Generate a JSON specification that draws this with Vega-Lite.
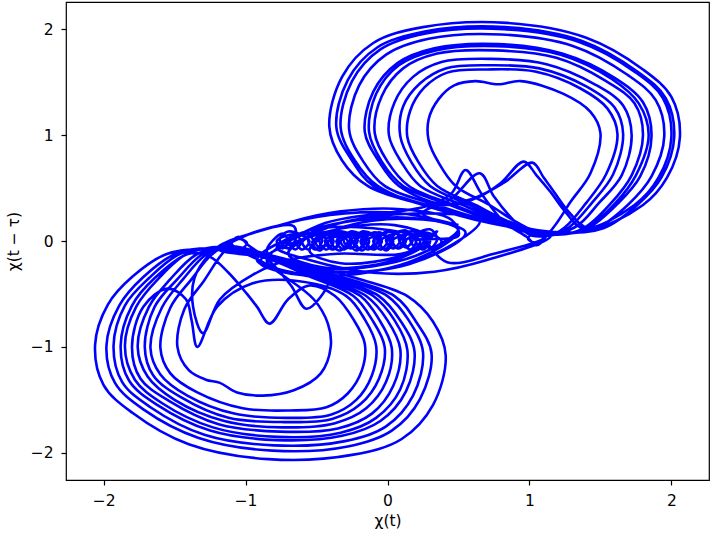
{
"$schema":"https://vega.github.io/schema/vega-lite/v6.json",
"width":643,"height":478,
"autosize":{"type":"none"},
"padding":{"left":66,"top":2,"right":1,"bottom":55},
"background":"white",
"config":{"view":{"stroke":"black","strokeWidth":1.2},
"axis":{"domain":false,"grid":false,"tickColor":"black","tickSize":5,"tickWidth":1.2,"labelFont":"DejaVu Sans","labelFontSize":15.5,"labelColor":"black","labelPadding":8,"titleFont":"DejaVu Sans","titleFontSize":15.5,"titleFontWeight":"normal","titleColor":"black"}},
"data":{"values":[
{"x":-1.20,"y":-0.08},{"x":-0.90,"y":0.10},{"x":-0.66,"y":0.14},
{"x":-0.65,"y":0.01},{"x":-0.70,"y":-0.07},{"x":-0.76,"y":0.01},{"x":-0.70,"y":0.09},
{"x":-0.55,"y":0.0},{"x":-0.60,"y":-0.08},{"x":-0.65,"y":0.0},{"x":-0.60,"y":0.08},
{"x":-0.46,"y":0.01},{"x":-0.51,"y":-0.08},{"x":-0.56,"y":0.01},{"x":-0.51,"y":0.10},
{"x":-0.38,"y":0.0},{"x":-0.43,"y":-0.08},{"x":-0.48,"y":0.0},{"x":-0.43,"y":0.08},
{"x":-0.28,"y":0.0},{"x":-0.34,"y":-0.09},{"x":-0.40,"y":0.0},{"x":-0.34,"y":0.09},
{"x":-0.21,"y":0.01},{"x":-0.26,"y":-0.07},{"x":-0.31,"y":0.01},{"x":-0.26,"y":0.09},
{"x":-0.13,"y":0.0},{"x":-0.18,"y":-0.09},{"x":-0.23,"y":0.0},{"x":-0.18,"y":0.09},
{"x":-0.04,"y":0.0},{"x":-0.10,"y":-0.08},{"x":-0.16,"y":0.0},{"x":-0.10,"y":0.08},
{"x":0.04,"y":0.0},{"x":-0.01,"y":-0.09},{"x":-0.06,"y":0.0},{"x":-0.01,"y":0.09},
{"x":0.13,"y":0.01},{"x":0.08,"y":-0.07},{"x":0.03,"y":0.01},{"x":0.08,"y":0.09},
{"x":0.23,"y":0.0},{"x":0.17,"y":-0.09},{"x":0.11,"y":0.0},{"x":0.17,"y":0.09},
{"x":0.30,"y":0.0},{"x":0.25,"y":-0.08},{"x":0.20,"y":0.0},{"x":0.25,"y":0.08},
{"x":0.38,"y":0.0},{"x":0.33,"y":-0.08},{"x":0.28,"y":0.0},{"x":0.33,"y":0.08},
{"x":0.35,"y":0.09},{"x":0.13,"y":-0.12},{"x":-0.33,"y":-0.21},{"x":-0.55,"y":-0.09},{"x":-0.33,"y":0.12},{"x":0.13,"y":0.21},
{"x":0.50,"y":0.12},{"x":0.20,"y":-0.14},{"x":-0.40,"y":-0.26},{"x":-0.70,"y":-0.12},{"x":-0.40,"y":0.14},{"x":0.20,"y":0.26},
{"x":0.65,"y":0.19},{"x":0.28,"y":-0.15},{"x":-0.48,"y":-0.33},{"x":-0.85,"y":-0.19},{"x":-0.48,"y":0.15},{"x":0.28,"y":0.33},
{"x":0.45,"y":0.45},{"x":0.55,"y":0.67},{"x":0.66,"y":0.45},{"x":0.82,"y":0.18},{"x":0.98,"y":0.04},{"x":1.05,"y":-0.04},{"x":1.10,"y":0.02},{"x":1.04,"y":0.08},{"x":0.99,"y":0.02},{"x":1.06,"y":-0.02},
{"x":1.17,"y":0.13},{"x":1.29,"y":0.37},{"x":1.43,"y":0.64},{"x":1.50,"y":1.02},{"x":1.43,"y":1.22},{"x":1.24,"y":1.39},{"x":0.94,"y":1.51},{"x":0.78,"y":1.48},{"x":0.62,"y":1.51},{"x":0.47,"y":1.47},{"x":0.36,"y":1.34},{"x":0.29,"y":1.15},{"x":0.29,"y":0.95},{"x":0.36,"y":0.74},{"x":0.48,"y":0.52},{"x":0.72,"y":0.34},{"x":0.92,"y":0.17},
{"x":1.13,"y":0.05},{"x":1.25,"y":0.13},{"x":1.40,"y":0.36},{"x":1.54,"y":0.63},{"x":1.62,"y":1.01},{"x":1.55,"y":1.25},{"x":1.36,"y":1.44},{"x":1.04,"y":1.60},{"x":0.70,"y":1.62},{"x":0.42,"y":1.59},{"x":0.26,"y":1.45},{"x":0.16,"y":1.23},{"x":0.14,"y":0.98},{"x":0.22,"y":0.74},{"x":0.35,"y":0.52},{"x":0.62,"y":0.34},{"x":0.88,"y":0.17},
{"x":1.18,"y":0.06},{"x":1.38,"y":0.12},{"x":1.57,"y":0.35},{"x":1.72,"y":0.62},{"x":1.80,"y":1.00},{"x":1.74,"y":1.30},{"x":1.54,"y":1.51},{"x":1.19,"y":1.73},{"x":0.76,"y":1.80},{"x":0.35,"y":1.77},{"x":0.11,"y":1.63},{"x":-0.04,"y":1.37},{"x":-0.09,"y":1.02},{"x":0.00,"y":0.75},{"x":0.15,"y":0.52},{"x":0.47,"y":0.34},{"x":0.81,"y":0.17},
{"x":1.19,"y":0.06},{"x":1.41,"y":0.12},{"x":1.62,"y":0.35},{"x":1.78,"y":0.61},{"x":1.86,"y":0.99},{"x":1.80,"y":1.31},{"x":1.60,"y":1.54},{"x":1.23,"y":1.77},{"x":0.78,"y":1.86},{"x":0.33,"y":1.82},{"x":0.07,"y":1.68},{"x":-0.10,"y":1.41},{"x":-0.16,"y":1.03},{"x":-0.06,"y":0.75},{"x":0.08,"y":0.52},{"x":0.42,"y":0.34},
{"x":0.65,"y":0.42},{"x":0.80,"y":0.55},{"x":0.96,"y":0.75},{"x":1.05,"y":0.62},{"x":1.15,"y":0.46},{"x":1.25,"y":0.28},{"x":1.38,"y":0.12},
{"x":1.74,"y":0.34},{"x":1.91,"y":0.60},{"x":2.00,"y":0.98},{"x":1.94,"y":1.35},{"x":1.74,"y":1.60},{"x":1.35,"y":1.88},{"x":0.82,"y":2.00},{"x":0.27,"y":1.96},{"x":-0.05,"y":1.81},{"x":-0.25,"y":1.51},{"x":-0.33,"y":1.07},{"x":-0.23,"y":0.76},{"x":-0.07,"y":0.52},{"x":0.30,"y":0.34},
{"x":0.60,"y":0.40},{"x":0.82,"y":0.55},{"x":1.02,"y":0.74},{"x":1.10,"y":0.60},{"x":1.18,"y":0.45},{"x":1.28,"y":0.27},{"x":1.42,"y":0.12},
{"x":1.80,"y":0.34},{"x":1.97,"y":0.60},{"x":2.06,"y":0.98},{"x":2.00,"y":1.36},{"x":1.80,"y":1.62},{"x":1.40,"y":1.92},{"x":0.84,"y":2.06},{"x":0.25,"y":2.02},{"x":-0.10,"y":1.87},{"x":-0.32,"y":1.55},{"x":-0.41,"y":1.08},{"x":-0.32,"y":0.76},{"x":-0.14,"y":0.52},{"x":0.25,"y":0.34},{"x":0.72,"y":0.17},
{"x":1.22,"y":0.07},{"x":1.47,"y":0.12},{"x":1.70,"y":0.35},{"x":1.86,"y":0.61},{"x":1.95,"y":0.99},{"x":1.89,"y":1.33},{"x":1.69,"y":1.57},{"x":1.31,"y":1.84},{"x":0.80,"y":1.95},{"x":0.29,"y":1.91},{"x":-0.01,"y":1.76},{"x":-0.20,"y":1.47},{"x":-0.27,"y":1.05},{"x":-0.17,"y":0.75},{"x":-0.02,"y":0.52},{"x":0.34,"y":0.34},{"x":0.76,"y":0.17},
{"x":1.14,"y":0.05},{"x":1.28,"y":0.13},{"x":1.44,"y":0.36},{"x":1.59,"y":0.63},{"x":1.66,"y":1.01},{"x":1.60,"y":1.26},{"x":1.40,"y":1.46},{"x":1.07,"y":1.63},{"x":0.71,"y":1.66},{"x":0.41,"y":1.63},{"x":0.23,"y":1.49},{"x":0.11,"y":1.27},{"x":0.09,"y":0.99},{"x":0.17,"y":0.74},{"x":0.30,"y":0.52},{"x":0.58,"y":0.34},{"x":0.86,"y":0.17},
{"x":1.12,"y":0.05},{"x":0.75,"y":-0.12},{"x":0.42,"y":-0.20},
{"x":0.25,"y":0.02},{"x":0.30,"y":-0.07},{"x":0.35,"y":0.02},{"x":0.30,"y":0.11},
{"x":0.16,"y":0.02},{"x":0.21,"y":-0.07},{"x":0.26,"y":0.02},{"x":0.21,"y":0.10},
{"x":0.08,"y":0.02},{"x":0.13,"y":-0.06},{"x":0.18,"y":0.02},{"x":0.13,"y":0.10},
{"x":-0.01,"y":0.01},{"x":0.04,"y":-0.07},{"x":0.09,"y":0.01},{"x":0.04,"y":0.09},
{"x":-0.10,"y":0.0},{"x":-0.05,"y":-0.08},{"x":0.00,"y":0.0},{"x":-0.05,"y":0.08},
{"x":-0.19,"y":0.0},{"x":-0.14,"y":-0.08},{"x":-0.09,"y":0.0},{"x":-0.14,"y":0.08},
{"x":-0.27,"y":-0.01},{"x":-0.22,"y":-0.09},{"x":-0.17,"y":-0.01},{"x":-0.22,"y":0.07},
{"x":-0.36,"y":0.0},{"x":-0.31,"y":-0.08},{"x":-0.26,"y":0.0},{"x":-0.31,"y":0.08},
{"x":-0.44,"y":0.0},{"x":-0.39,"y":-0.08},{"x":-0.34,"y":0.0},{"x":-0.39,"y":0.08},
{"x":-0.53,"y":-0.01},{"x":-0.48,"y":-0.09},{"x":-0.43,"y":-0.01},{"x":-0.48,"y":0.07},
{"x":-0.70,"y":-0.12},{"x":-0.45,"y":-0.25},{"x":0.05,"y":-0.18},{"x":0.30,"y":0.02},{"x":0.05,"y":0.15},{"x":-0.45,"y":0.08},
{"x":-0.90,"y":-0.20},{"x":-0.55,"y":-0.33},{"x":0.15,"y":-0.20},{"x":0.50,"y":0.10},{"x":0.15,"y":0.22},{"x":-0.55,"y":0.10},
{"x":-0.92,"y":-0.18},{"x":-0.60,"y":-0.32},{"x":-0.42,"y":-0.38},{"x":-0.57,"y":-0.64},{"x":-0.68,"y":-0.42},{"x":-0.84,"y":-0.18},{"x":-0.98,"y":-0.04},{"x":-1.05,"y":0.04},{"x":-1.10,"y":-0.02},{"x":-1.04,"y":-0.08},{"x":-0.99,"y":-0.02},{"x":-1.06,"y":0.02},
{"x":-1.17,"y":-0.13},{"x":-1.29,"y":-0.37},{"x":-1.43,"y":-0.64},{"x":-1.48,"y":-1.0},{"x":-1.40,"y":-1.22},{"x":-1.28,"y":-1.31},{"x":-1.18,"y":-1.34},{"x":-1.06,"y":-1.43},{"x":-0.88,"y":-1.46},{"x":-0.66,"y":-1.41},{"x":-0.47,"y":-1.25},{"x":-0.40,"y":-1.0},{"x":-0.42,"y":-0.78},{"x":-0.52,"y":-0.55},{"x":-0.72,"y":-0.34},{"x":-0.92,"y":-0.17},
{"x":-1.17,"y":-0.06},{"x":-1.35,"y":-0.13},{"x":-1.53,"y":-0.36},{"x":-1.68,"y":-0.62},{"x":-1.76,"y":-1.00},{"x":-1.69,"y":-1.28},{"x":-1.50,"y":-1.50},{"x":-1.15,"y":-1.70},{"x":-0.74,"y":-1.76},{"x":-0.37,"y":-1.72},{"x":-0.15,"y":-1.58},{"x":-0.01,"y":-1.33},{"x":0.03,"y":-1.01},{"x":-0.06,"y":-0.74},{"x":-0.19,"y":-0.52},{"x":-0.50,"y":-0.34},{"x":-0.83,"y":-0.17},
{"x":-1.13,"y":-0.05},{"x":-1.24,"y":-0.13},{"x":-1.38,"y":-0.36},{"x":-1.53,"y":-0.63},{"x":-1.60,"y":-1.01},{"x":-1.53,"y":-1.25},{"x":-1.34,"y":-1.43},{"x":-1.02,"y":-1.58},{"x":-0.69,"y":-1.60},{"x":-0.43,"y":-1.57},{"x":-0.28,"y":-1.44},{"x":-0.18,"y":-1.22},{"x":-0.16,"y":-0.97},{"x":-0.24,"y":-0.74},{"x":-0.37,"y":-0.52},
{"x":-0.55,"y":-0.42},{"x":-0.70,"y":-0.55},{"x":-0.83,"y":-0.78},{"x":-0.92,"y":-0.62},{"x":-0.99,"y":-0.50},{"x":-1.12,"y":-0.30},{"x":-1.25,"y":-0.15},{"x":-1.40,"y":-0.12},
{"x":-1.64,"y":-0.35},{"x":-1.80,"y":-0.61},{"x":-1.88,"y":-0.99},{"x":-1.82,"y":-1.32},{"x":-1.62,"y":-1.55},{"x":-1.25,"y":-1.79},{"x":-0.78,"y":-1.88},{"x":-0.32,"y":-1.84},{"x":-0.05,"y":-1.70},{"x":0.13,"y":-1.42},{"x":0.19,"y":-1.04},{"x":0.09,"y":-0.75},{"x":-0.06,"y":-0.52},{"x":-0.40,"y":-0.34},{"x":-0.78,"y":-0.17},
{"x":-1.25,"y":-0.08},{"x":-1.55,"y":-0.12},{"x":-1.80,"y":-0.34},{"x":-1.97,"y":-0.60},{"x":-2.06,"y":-0.98},{"x":-2.00,"y":-1.36},{"x":-1.80,"y":-1.62},{"x":-1.40,"y":-1.92},{"x":-0.84,"y":-2.06},{"x":-0.25,"y":-2.02},{"x":0.10,"y":-1.87},{"x":0.32,"y":-1.55},{"x":0.41,"y":-1.08},{"x":0.32,"y":-0.76},{"x":0.14,"y":-0.52},{"x":-0.25,"y":-0.34},{"x":-0.72,"y":-0.17},
{"x":-1.14,"y":-0.05},{"x":-1.28,"y":-0.13},{"x":-1.44,"y":-0.36},{"x":-1.59,"y":-0.63},{"x":-1.67,"y":-1.01},{"x":-1.60,"y":-1.26},{"x":-1.41,"y":-1.46},{"x":-1.08,"y":-1.63},{"x":-0.71,"y":-1.67},{"x":-0.40,"y":-1.64},{"x":-0.22,"y":-1.50},{"x":-0.11,"y":-1.27},{"x":-0.08,"y":-0.99},{"x":-0.16,"y":-0.74},{"x":-0.29,"y":-0.52},
{"x":-0.62,"y":-0.38},{"x":-0.95,"y":-0.40},{"x":-1.20,"y":-0.62},{"x":-1.34,"y":-1.0},{"x":-1.38,"y":-0.75},{"x":-1.42,"y":-0.55},{"x":-1.55,"y":-0.45},
{"x":-1.72,"y":-0.62},{"x":-1.80,"y":-1.00},{"x":-1.74,"y":-1.30},{"x":-1.54,"y":-1.51},{"x":-1.19,"y":-1.73},{"x":-0.76,"y":-1.80},{"x":-0.35,"y":-1.77},{"x":-0.11,"y":-1.63},{"x":0.04,"y":-1.37},{"x":0.09,"y":-1.02},{"x":0.00,"y":-0.75},{"x":-0.15,"y":-0.52},{"x":-0.47,"y":-0.34},{"x":-0.81,"y":-0.17},
{"x":-1.22,"y":-0.07},{"x":-1.46,"y":-0.12},{"x":-1.68,"y":-0.35},{"x":-1.85,"y":-0.61},{"x":-1.93,"y":-0.99},{"x":-1.87,"y":-1.33},{"x":-1.67,"y":-1.57},{"x":-1.29,"y":-1.83},{"x":-0.80,"y":-1.93},{"x":-0.30,"y":-1.89},{"x":-0.01,"y":-1.75},{"x":0.18,"y":-1.46},{"x":0.25,"y":-1.05},{"x":0.15,"y":-0.75},{"x":0.00,"y":-0.52},{"x":-0.36,"y":-0.34},{"x":-0.77,"y":-0.17},
{"x":-1.20,"y":-0.07},{"x":-0.68,"y":0.18},{"x":-0.33,"y":0.28},{"x":0.10,"y":0.30},{"x":0.45,"y":0.20},{"x":0.50,"y":0.05},
{"x":0.20,"y":0.0},{"x":0.24,"y":-0.07},{"x":0.28,"y":0.0},{"x":0.24,"y":0.07},
{"x":0.12,"y":-0.01},{"x":0.16,"y":-0.08},{"x":0.20,"y":-0.01},{"x":0.16,"y":0.06},
{"x":0.03,"y":0.0},{"x":0.07,"y":-0.07},{"x":0.11,"y":0.0},{"x":0.07,"y":0.07},
{"x":-0.06,"y":-0.01},{"x":-0.02,"y":-0.08},{"x":0.02,"y":-0.01},{"x":-0.02,"y":0.06},
{"x":-0.15,"y":0.0},{"x":-0.11,"y":-0.07},{"x":-0.07,"y":0.0},{"x":-0.11,"y":0.07},
{"x":-0.24,"y":-0.01},{"x":-0.20,"y":-0.08},{"x":-0.16,"y":-0.01},{"x":-0.20,"y":0.06},
{"x":-0.33,"y":0.0},{"x":-0.29,"y":-0.07},{"x":-0.25,"y":0.0},{"x":-0.29,"y":0.07},
{"x":-0.42,"y":-0.01},{"x":-0.38,"y":-0.08},{"x":-0.34,"y":-0.01},{"x":-0.38,"y":0.06},
{"x":-0.51,"y":0.0},{"x":-0.47,"y":-0.07},{"x":-0.43,"y":0.0},{"x":-0.47,"y":0.07},
{"x":-0.60,"y":-0.01},{"x":-0.56,"y":-0.08},{"x":-0.52,"y":-0.01},{"x":-0.56,"y":0.06},
{"x":-0.69,"y":-0.01},{"x":-0.65,"y":-0.08},{"x":-0.61,"y":-0.01},{"x":-0.65,"y":0.06},
{"x":-0.78,"y":0.0},{"x":-0.74,"y":-0.07},{"x":-0.70,"y":0.0},{"x":-0.74,"y":0.07},
{"x":-0.85,"y":-0.10},{"x":-0.45,"y":-0.28},{"x":0.15,"y":-0.22},{"x":0.55,"y":0.08},{"x":0.25,"y":0.26},
{"x":0.45,"y":0.40},{"x":0.65,"y":0.64},{"x":0.75,"y":0.42},{"x":0.90,"y":0.18},{"x":1.02,"y":0.05},
{"x":1.32,"y":0.13},{"x":1.49,"y":0.36},{"x":1.65,"y":0.62},{"x":1.72,"y":1.00},{"x":1.66,"y":1.28},{"x":1.46,"y":1.48},{"x":1.12,"y":1.67},{"x":0.73,"y":1.72},{"x":0.38,"y":1.69},{"x":0.18,"y":1.55},{"x":0.05,"y":1.31},{"x":0.01,"y":1.00},{"x":0.10,"y":0.74},{"x":0.23,"y":0.52},{"x":0.53,"y":0.34},{"x":0.84,"y":0.17},
{"x":1.19,"y":0.06},{"x":1.40,"y":0.12},{"x":1.60,"y":0.35},{"x":1.75,"y":0.62},{"x":1.84,"y":1.00},{"x":1.77,"y":1.30},{"x":1.58,"y":1.53},{"x":1.22,"y":1.76},{"x":0.77,"y":1.84},{"x":0.34,"y":1.80},{"x":0.08,"y":1.66},{"x":-0.08,"y":1.39},{"x":-0.13,"y":1.03},{"x":-0.04,"y":0.75},{"x":0.11,"y":0.52},{"x":0.44,"y":0.34},{"x":0.80,"y":0.17},
{"x":1.24,"y":0.08},{"x":1.52,"y":0.12},{"x":1.76,"y":0.34},{"x":1.93,"y":0.60},{"x":2.02,"y":0.98},{"x":1.96,"y":1.35},{"x":1.76,"y":1.60},{"x":1.37,"y":1.89},{"x":0.83,"y":2.02},{"x":0.27,"y":1.98},{"x":-0.07,"y":1.83},{"x":-0.28,"y":1.52},{"x":-0.36,"y":1.07},{"x":-0.25,"y":0.76},{"x":-0.10,"y":0.52},{"x":0.28,"y":0.34},{"x":0.73,"y":0.17},
{"x":1.15,"y":0.05},{"x":0.70,"y":-0.18},{"x":0.33,"y":-0.29},{"x":-0.10,"y":-0.30},{"x":-0.55,"y":-0.18},{"x":-0.78,"y":-0.06},{"x":-0.55,"y":0.10},{"x":-0.10,"y":0.12},{"x":0.30,"y":0.0},{"x":0.10,"y":-0.12},{"x":-0.35,"y":-0.12},{"x":-0.70,"y":-0.18},{"x":-0.95,"y":-0.32},{"x":-1.18,"y":-0.55},{"x":-1.30,"y":-0.87},{"x":-1.37,"y":-0.62},{"x":-1.36,"y":-0.35},{"x":-1.25,"y":-0.12},
{"x":-1.19,"y":-0.06},{"x":-1.41,"y":-0.12},{"x":-1.61,"y":-0.35},{"x":-1.77,"y":-0.62},{"x":-1.85,"y":-0.99},{"x":-1.78,"y":-1.31},{"x":-1.59,"y":-1.53},{"x":-1.23,"y":-1.76},{"x":-0.77,"y":-1.85},{"x":-0.33,"y":-1.81},{"x":-0.08,"y":-1.67},{"x":0.09,"y":-1.40},{"x":0.14,"y":-1.03},{"x":0.05,"y":-0.75},{"x":-0.10,"y":-0.52},{"x":-0.43,"y":-0.34},{"x":-0.80,"y":-0.17},
{"x":-1.16,"y":-0.05},{"x":-1.31,"y":-0.13},{"x":-1.48,"y":-0.36},{"x":-1.64,"y":-0.62},{"x":-1.71,"y":-1.00},{"x":-1.65,"y":-1.27},{"x":-1.45,"y":-1.48},{"x":-1.12,"y":-1.67},{"x":-0.73,"y":-1.71},{"x":-0.39,"y":-1.68},{"x":-0.19,"y":-1.54},{"x":-0.06,"y":-1.30},{"x":-0.02,"y":-1.00},{"x":-0.11,"y":-0.74},{"x":-0.24,"y":-0.52},{"x":-0.54,"y":-0.34},{"x":-0.84,"y":-0.17},
{"x":-1.23,"y":-0.07},{"x":-1.49,"y":-0.12},{"x":-1.72,"y":-0.34},{"x":-1.89,"y":-0.61},{"x":-1.98,"y":-0.99},{"x":-1.92,"y":-1.34},{"x":-1.72,"y":-1.59},{"x":-1.33,"y":-1.86},{"x":-0.81,"y":-1.98},{"x":-0.28,"y":-1.94},{"x":0.03,"y":-1.79},{"x":0.23,"y":-1.49},{"x":0.31,"y":-1.06},{"x":0.20,"y":-0.76},{"x":0.05,"y":-0.52},{"x":-0.32,"y":-0.34},{"x":-0.75,"y":-0.17},
{"x":-1.15,"y":-0.05},{"x":-0.70,"y":0.17},{"x":-0.30,"y":0.26},{"x":0.10,"y":0.26},{"x":0.50,"y":0.15}
]},
"mark":{"type":"line","order":false,"color":"#0000ff","strokeWidth":2.6,"interpolate":"catmull-rom","clip":true},
"encoding":{
"x":{"field":"x","type":"quantitative","scale":{"domain":[-2.265,2.265],"nice":false,"zero":false},"axis":{"values":[-2,-1,0,1,2],"title":"χ(t)","titlePadding":5}},
"y":{"field":"y","type":"quantitative","scale":{"domain":[-2.257,2.257],"nice":false,"zero":false},"axis":{"values":[-2,-1,0,1,2],"title":"χ(t − τ)","titlePadding":9}}
}
}
